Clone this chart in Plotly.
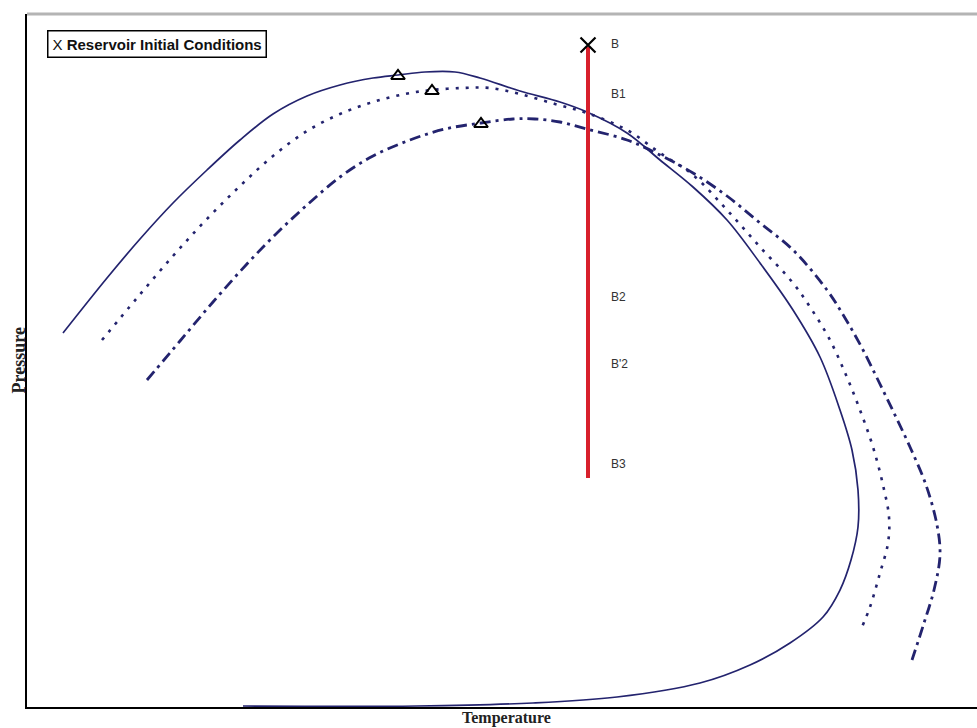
import plotly.graph_objects as go

# Phase envelopes (temperature, pressure) in arbitrary units
env_solid_T = [36, 80, 113, 146, 180, 213, 246, 280, 313, 346, 371, 398, 428, 453, 493, 533, 560, 600, 633, 666, 700, 733, 766, 793, 813, 825, 831, 831, 824, 813, 796, 763, 723, 673, 590, 506, 390, 216]
env_solid_P = [374, 429, 468, 504, 537, 567, 593, 611, 622, 629, 632, 635, 635, 629, 616, 605, 595, 574, 547, 520, 487, 444, 397, 350, 297, 257, 217, 180, 147, 117, 90, 64, 42, 24, 10, 4, 1, 1]

env_dot_T = [75, 110, 146, 179, 213, 246, 280, 313, 346, 378, 405, 436, 463, 493, 528, 560, 600, 633, 666, 700, 733, 766, 785, 803, 819, 833, 846, 856, 862, 861, 853, 843, 835]
env_dot_P = [367, 409, 451, 487, 521, 551, 576, 593, 605, 613, 617, 619, 619, 613, 603, 594, 577, 554, 532, 497, 460, 424, 397, 367, 332, 297, 260, 222, 190, 164, 134, 100, 80]

env_dashdot_T = [120, 153, 186, 219, 249, 280, 313, 346, 383, 418, 454, 486, 508, 533, 560, 600, 633, 666, 700, 733, 766, 800, 818, 835, 851, 867, 883, 899, 910, 913, 907, 897, 885]
env_dashdot_P = [327, 366, 405, 442, 473, 502, 530, 551, 567, 578, 584, 588, 588, 585, 578, 567, 552, 534, 511, 484, 457, 417, 389, 359, 327, 294, 260, 222, 182, 152, 117, 84, 47]

# Critical points of each envelope
crit_T = [371, 405, 454]
crit_P = [631, 616, 583]

# Isothermal depletion path from initial reservoir conditions
path_T = [561, 561]
path_P = [229, 660]
init_T = [561]
init_P = [662]

# Stage labels along the depletion path
stage_labels = ["B", "B1", "B2", "B'2", "B3"]
stage_P = [663, 613, 410, 343, 243]
label_T = 582

navy = "#23236e"

fig = go.Figure()

fig.add_trace(go.Scatter(x=env_solid_T, y=env_solid_P, mode="lines",
                         line=dict(color=navy, width=1.7, shape="spline", smoothing=1.0), showlegend=False))
fig.add_trace(go.Scatter(x=env_dot_T, y=env_dot_P, mode="lines",
                         line=dict(color=navy, width=2.6, dash="3px,7px", shape="spline", smoothing=1.0), showlegend=False))
fig.add_trace(go.Scatter(x=env_dashdot_T, y=env_dashdot_P, mode="lines",
                         line=dict(color=navy, width=2.8, dash="11px,5px,3px,5px", shape="spline", smoothing=1.0), showlegend=False))

fig.add_trace(go.Scatter(x=crit_T, y=crit_P, mode="markers",
                         marker=dict(symbol="triangle-up-open", size=12, color="black", line=dict(width=2)),
                         showlegend=False))

fig.add_trace(go.Scatter(x=path_T, y=path_P, mode="lines", line=dict(color="#d8202c", width=4), showlegend=False))

fig.add_trace(go.Scatter(x=init_T, y=init_P, mode="markers",
                         marker=dict(symbol="x-thin", size=15, color="black", line=dict(width=2.2, color="black")),
                         showlegend=False))

for lab, p in zip(stage_labels, stage_P):
    fig.add_annotation(x=label_T, y=p, text=lab, showarrow=False, xanchor="left", yanchor="middle",
                       font=dict(family="Arial", size=12, color="#333333"))

# Legend box
fig.add_annotation(xref="paper", yref="paper", x=0.021, y=0.977, xanchor="left", yanchor="top",
                   text="X <b>Reservoir Initial Conditions</b>", showarrow=False, align="left",
                   font=dict(family="Arial", size=15, color="#111111"),
                   bordercolor="black", borderwidth=1.5, borderpad=4, bgcolor="white")

fig.add_annotation(xref="paper", yref="paper", x=-0.0085, y=0.5, text="<b>Pressure</b>", textangle=-90,
                   showarrow=False, xanchor="center", yanchor="middle",
                   font=dict(family="Liberation Serif", size=18, color="#222222"))
fig.add_annotation(xref="paper", yref="paper", x=0.505, y=-0.016, text="<b>Temperature</b>",
                   showarrow=False, xanchor="center", yanchor="middle",
                   font=dict(family="Liberation Serif", size=16, color="#222222"))

# Top frame line
fig.add_shape(type="line", xref="paper", yref="paper", x0=0, x1=1, y0=1, y1=1,
              line=dict(color="#b4b4b4", width=3))

fig.update_layout(
    width=977, height=728,
    margin=dict(l=27, r=0, t=14, b=21),
    paper_bgcolor="white", plot_bgcolor="white",
    showlegend=False,
    xaxis=dict(range=[0, 950], showgrid=False, zeroline=False, showticklabels=False, ticks="",
               showline=True, linecolor="black", linewidth=2),
    yaxis=dict(range=[0, 693], showgrid=False, zeroline=False, showticklabels=False, ticks="",
               showline=True, linecolor="black", linewidth=2),
)

fig.write_html("out.html")
